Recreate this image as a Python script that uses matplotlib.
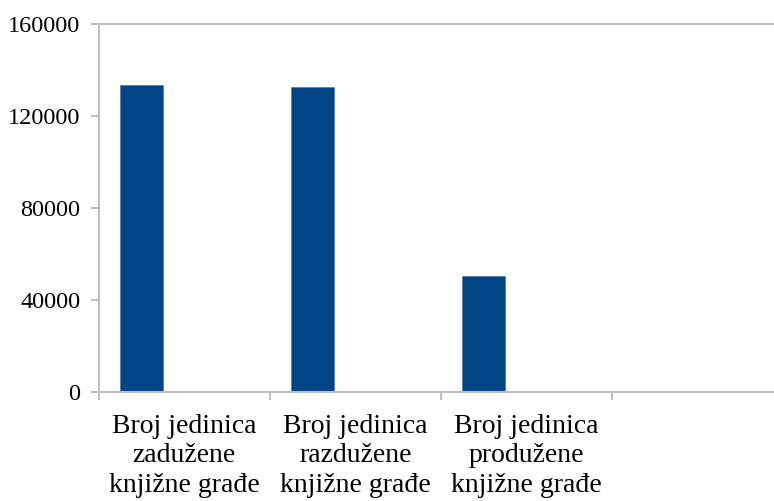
import numpy as np
import matplotlib
matplotlib.use('Agg')
import matplotlib.pyplot as plt

categories = ['Broj jedinica\nzadužene\nknjižne građe',
              'Broj jedinica\nrazdužene\nknjižne građe',
              'Broj jedinica\nprodužene\nknjižne građe',
              '']
values = [133500, 132800, 50300, 0]
yticks = [0, 40000, 80000, 120000, 160000]

plt.rcParams['font.family'] = ['Liberation Serif', 'DejaVu Serif']

fig = plt.figure(figsize=(7.74, 5.01), dpi=100)
ax = fig.add_axes([98.5 / 774, 1 - 392 / 501, 684.8 / 774, 368 / 501])

x = np.arange(len(categories))
ax.bar(x - 0.25, values, width=0.25, color='#004586', edgecolor='#5b7fae', linewidth=0.6)

ax.set_xlim(-0.5, len(categories) - 0.5)
ax.set_ylim(0, 160000)
ax.set_yticks(yticks)
ax.set_yticklabels([str(v) for v in yticks], fontsize=17.5)

ax.set_xticks(x)
ax.set_xticklabels(categories, fontsize=20, linespacing=1.22)
ax.set_xticks(np.arange(-0.5, len(categories)), minor=True)
ax.tick_params(axis='x', which='major', length=0, pad=16)
ax.tick_params(axis='x', which='minor', length=6, width=1.5, color='#bfbfbf')
ax.tick_params(axis='y', length=6, width=1.5, color='#bfbfbf', pad=7)

for s in ['left', 'bottom', 'top', 'right']:
    ax.spines[s].set_color('#bfbfbf')
    ax.spines[s].set_linewidth(1.5)

fig.savefig('out.png', dpi=100)
